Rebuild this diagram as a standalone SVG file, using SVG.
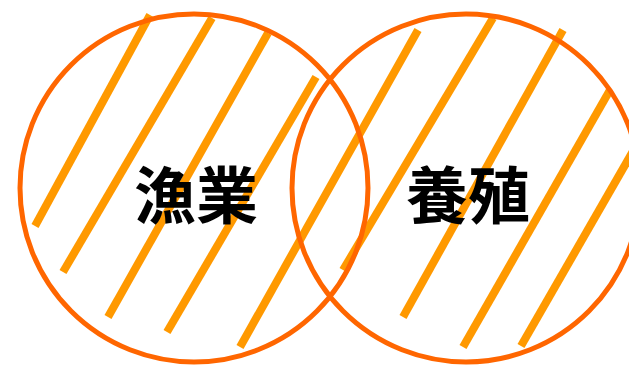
<svg xmlns="http://www.w3.org/2000/svg" width="629" height="366" viewBox="0 0 629 366">
  <style>
    .hatch { stroke: #FF9900; stroke-width: 8; stroke-linecap: butt; fill: none; }
    .ring { stroke: #FF6600; stroke-width: 5; fill: none; }
    .label { font-family: "Noto Sans CJK JP", "Noto Sans CJK SC", sans-serif; font-weight: bold; font-size: 62px; fill: #000000; text-anchor: middle; }
  </style>
  <rect width="629" height="366" fill="#ffffff"/>
  <g id="connectors">
    <line class="hatch" x1="150" y1="15" x2="35" y2="226"/>
    <line class="hatch" x1="212" y1="18" x2="63" y2="272"/>
    <line class="hatch" x1="268" y1="33" x2="108" y2="317"/>
    <line class="hatch" x1="316" y1="77" x2="167" y2="332"/>
    <line class="hatch" x1="418" y1="30" x2="240" y2="347"/>
    <line class="hatch" x1="493" y1="18" x2="343" y2="270"/>
    <line class="hatch" x1="563" y1="30" x2="403" y2="317"/>
    <line class="hatch" x1="610" y1="90" x2="463" y2="347"/>
    <line class="hatch" x1="640" y1="139" x2="521" y2="346"/>
  </g>
  <g id="fishery">
    <circle class="ring" cx="194" cy="188" r="174"/>
    <text class="label" x="196" y="219">漁業</text>
  </g>
  <g id="aquaculture">
    <circle class="ring" cx="466" cy="188" r="174"/>
    <text class="label" x="468" y="219">養殖</text>
  </g>
</svg>
